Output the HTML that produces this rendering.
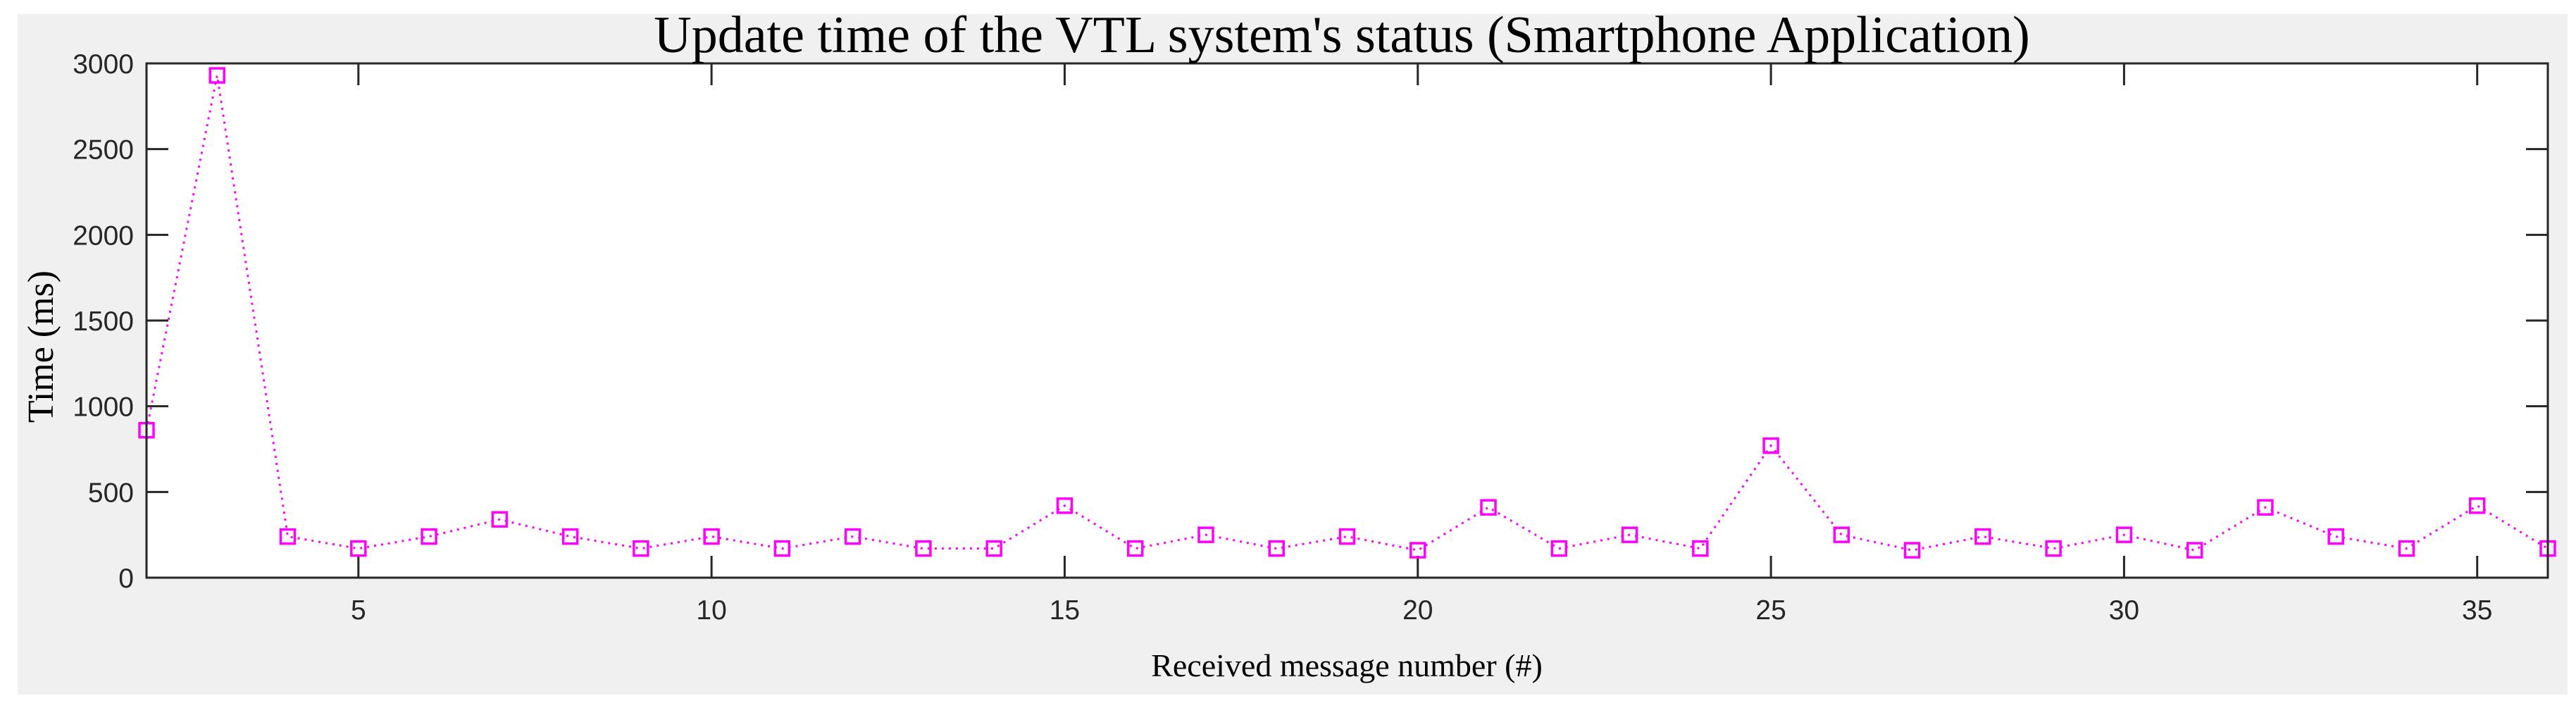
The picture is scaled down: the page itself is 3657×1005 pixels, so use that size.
<!DOCTYPE html>
<html><head><meta charset="utf-8"><style>
html,body{margin:0;padding:0;background:#fff;}
svg{display:block;}
</style></head><body>
<svg width="3657" height="1005" xmlns="http://www.w3.org/2000/svg" id="chart">
<rect x="25" y="20" width="3620" height="966" fill="#f0f0f0"/>
<rect x="208" y="90" width="3409" height="730" fill="#fff"/>
<g id="grid"></g>
<g id="series"></g>
<rect x="208" y="90" width="3409" height="730" fill="none" stroke="#262626" stroke-width="3"/>
<text x="1905" y="74" font-family="Liberation Serif, serif" font-size="74" text-anchor="middle" fill="#000">Update time of the VTL system's status (Smartphone Application)</text>
<text x="1912" y="960" font-family="Liberation Serif, serif" font-size="46" text-anchor="middle" fill="#000">Received message number (#)</text>
<text transform="translate(75,492) rotate(-90)" font-family="Liberation Serif, serif" font-size="52" text-anchor="middle" fill="#000">Time (ms)</text>
</svg>
<script>
const xValues = [2,3,4,5,6,7,8,9,10,11,12,13,14,15,16,17,18,19,20,21,22,23,24,25,26,27,28,29,30,31,32,33,34,35,36];
const timeValues = [860,2930,240,170,240,340,240,170,240,170,240,170,170,420,170,250,170,240,160,410,170,250,170,770,250,160,240,170,250,160,410,240,170,420,170];
const xTicks = [5,10,15,20,25,30,35];
const yTicks = [0,500,1000,1500,2000,2500,3000];
const L=208,R=3617,T=90,B=820,xMin=2,xMax=36,yMin=0,yMax=3000;
const sx=v=>L+(v-xMin)/(xMax-xMin)*(R-L);
const sy=v=>B-(v-yMin)/(yMax-yMin)*(B-T);
const NS="http://www.w3.org/2000/svg";
const g=document.getElementById('grid'), s=document.getElementById('series');
function mk(tag,attrs,parent){const e=document.createElementNS(NS,tag);for(const k in attrs)e.setAttribute(k,attrs[k]);parent.appendChild(e);return e;}
xTicks.forEach(v=>{
  const x=sx(v);
  const t1=mk('line',{x1:x,x2:x,y1:B,y2:B-31,stroke:'#262626','stroke-width':3},g);
  
  
  const t2=mk('line',{x1:x,x2:x,y1:T,y2:T+31,stroke:'#262626','stroke-width':3},g);
  
  
  const lb=mk('text',{x:x,y:879,'font-family':'Liberation Sans, sans-serif','font-size':39,'text-anchor':'middle',fill:'#262626'},g);
  lb.textContent=v;
  
  
});
yTicks.forEach(v=>{
  const y=sy(v);
  const t1=mk('line',{x1:L,x2:L+31,y1:y,y2:y,stroke:'#262626','stroke-width':3},g);
  
  
  const t2=mk('line',{x1:R,x2:R-31,y1:y,y2:y,stroke:'#262626','stroke-width':3},g);
  
  
  const lb=mk('text',{x:190,y:y+14,'font-family':'Liberation Sans, sans-serif','font-size':39,'text-anchor':'end',fill:'#262626'},g);
  lb.textContent=v;
  
  
});
const pts=xValues.map((x,i)=>sx(x)+','+sy(timeValues[i])).join(' ');
const line=mk('polyline',{points:pts,fill:'none',stroke:'#ff00ff','stroke-width':3,'stroke-dasharray':'3 7'},s);


xValues.forEach((x,i)=>{
  const cx=sx(x),cy=sy(timeValues[i]);
  const m=mk('rect',{x:cx-10,y:cy-10,width:20,height:20,fill:'none',stroke:'#ff00ff','stroke-width':3.5},s);
  
  
});
</script>
</body></html>
